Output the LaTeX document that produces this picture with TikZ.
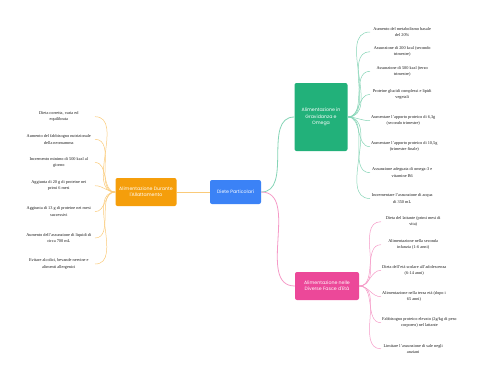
\documentclass[tikz,border=0pt]{standalone}
\usepackage{fontspec}
\setmainfont{Liberation Serif}
\newfontfamily\hubfont{Poppins}
\definecolor{cblue}{RGB}{59,130,246}
\definecolor{corange}{RGB}{245,158,11}
\definecolor{cgreen}{RGB}{34,177,122}
\definecolor{cpink}{RGB}{236,72,153}
\tikzset{
  hub/.style={rounded corners=2pt, text=white, align=center, inner sep=1pt,
    font=\hubfont\fontsize{4.7}{6.2}\selectfont},
  leaf/.style={align=center, inner sep=1pt, minimum width=64pt, text=black!90,
    font=\fontsize{4.3}{6.5}\selectfont},
  trunk/.style={line width=0.8pt},
  wire/.style={line width=0.5pt},
  lnO/.style={draw=corange!55},
  lnG/.style={draw=cgreen!55},
  lnP/.style={draw=cpink!55},
}
% parent, name, y, text
\newcommand{\leafL}[4]{\node[leaf, minimum width=72pt, anchor=east] (#2) at (\xL,#3) {#4};
  \draw[wire, lnO] (#1.west) to[out=180, in=0] (#2.east);}
% parent, name, colour style, x, y, text
\newcommand{\leafR}[6]{\node[leaf, anchor=west] (#2) at (#4,#5) {#6};
  \draw[wire, #3] (#1.east) to[out=0, in=180] (#2.west);}
\def\xL{95}
\def\xG{370}
\def\xP{381}

\begin{document}
\begin{tikzpicture}[x=1pt, y=-1pt]
\useasboundingbox (0,0) rectangle (480,384);

\node[hub, fill=cblue, minimum width=51pt, minimum height=24pt] (root) at (235.5,192) {Diete Particolari};
\node[hub, fill=corange, minimum width=61pt, minimum height=28pt] (allatt) at (146,192) {Alimentazione Durante\\l'Allattamento};
\node[hub, fill=cgreen, minimum width=53pt, minimum height=68pt] (gravid) at (321,117) {Alimentazione in\\Gravidanza e\\Omega};
\node[hub, fill=cpink, minimum width=64pt, minimum height=28pt] (fasce) at (327,286) {Alimentazione nelle\\Diverse Fasce d'Età};
\draw[trunk, lnO] (root.west) -- (allatt.east);
\draw[trunk, lnG] (root.east) to[out=0, in=180] (gravid.west);
\draw[trunk, lnP] (root.east) to[out=0, in=180] (fasce.west);

\leafL{allatt}{a1}{116.7}{Dieta corretta, varia ed\\equilibrata}
\leafL{allatt}{a2}{139.3}{Aumento del fabbisogno nutrizionale\\della neomamma}
\leafL{allatt}{a3}{162.5}{Incremento minimo di 500 kcal al\\giorno}
\leafL{allatt}{a4}{185.7}{Aggiunta di 20 g di proteine nei\\primi 6 mesi}
\leafL{allatt}{a5}{211.7}{Aggiunta di 13 g di proteine nei mesi\\successivi}
\leafL{allatt}{a6}{238}{Aumento dell'assunzione di liquidi di\\circa 700 mL}
\leafL{allatt}{a7}{264}{Evitare alcolici, bevande nervine e\\alimenti allergenici}

\leafR{gravid}{g1}{lnG}{\xG}{32}{Aumento del metabolismo basale\\del 20\%}
\leafR{gravid}{g2}{lnG}{\xG}{51.7}{Assunzione di 200 kcal (secondo\\trimestre)}
\leafR{gravid}{g3}{lnG}{\xG}{71.3}{Assunzione di 500 kcal (terzo\\trimestre)}
\leafR{gravid}{g4}{lnG}{\xG}{94.3}{Proteine glucidi complessi e lipidi\\vegetali}
\leafR{gravid}{g5}{lnG}{\xG}{120.7}{Aumentare l'apporto proteico di 6,3g\\(secondo trimestre)}
\leafR{gravid}{g6}{lnG}{\xG}{146.7}{Aumentare l'apporto proteico di 10,5g\\(trimestre finale)}
\leafR{gravid}{g7}{lnG}{\xG}{172.7}{Assunzione adeguata di omega-3 e\\vitamine B6}
\leafR{gravid}{g8}{lnG}{\xG}{198.5}{Incrementare l'assunzione di acqua\\di 350 mL}

\leafR{fasce}{p1}{lnP}{\xP}{221.7}{Dieta del lattante (primi mesi di\\vita)}
\leafR{fasce}{p2}{lnP}{\xP}{244.7}{Alimentazione nella seconda\\infanzia (1-6 anni)}
\leafR{fasce}{p3}{lnP}{\xP}{270.3}{Dieta dell'età scolare all'adolescenza\\(6-14 anni)}
\leafR{fasce}{p4}{lnP}{\xP}{296.7}{Alimentazione nella terza età (dopo i\\65 anni)}
\leafR{fasce}{p5}{lnP}{\xP}{322.7}{Fabbisogno proteico elevato (2g/kg di peso\\corporeo) nel lattante}
\leafR{fasce}{p6}{lnP}{\xP}{348.8}{Limitare l'assunzione di sale negli\\anziani}

\end{tikzpicture}
\end{document}
